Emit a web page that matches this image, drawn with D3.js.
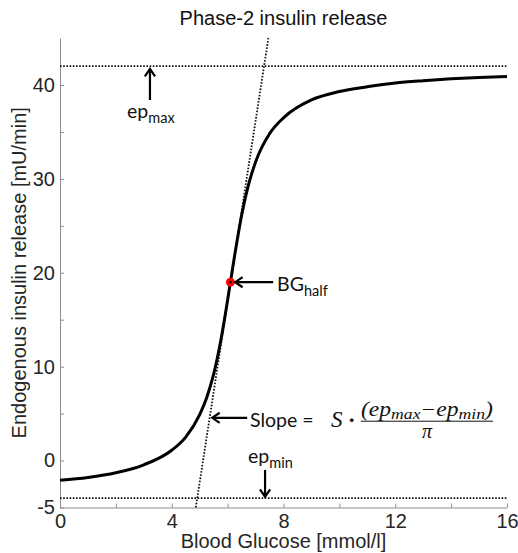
<!DOCTYPE html>
<html>
<head>
<meta charset="utf-8">
<script src="https://cdn.jsdelivr.net/npm/d3@7"></script>
<style>
  body { margin: 0; background: #fff; }
  #chart text { font-family: "Liberation Sans", Arial, sans-serif; }
  .axis path, .axis line { stroke: #8c8c8c; }
  .axis text { fill: #262626; font-size: 20px; }
  .note { font-family: Lato, "Open Sans", sans-serif !important; font-size: 19.5px; fill: #111; }
  .math { font-family: "Liberation Serif", "DejaVu Serif", serif !important; font-style: italic; fill: #111; }
</style>
</head>
<body>
<div id="chart"></div>
<script>
// data
var bgValues   = [0, 1, 2, 3, 4, 4.5, 5, 5.25, 5.5, 5.75, 6, 6.1, 6.25, 6.5, 6.75, 7, 7.5, 8, 9, 10, 11, 12, 13, 14, 15, 16];
var epValues   = [-2.1, -1.8, -1.3, -0.45, 1.1, 2.5, 4.9, 6.7, 9.2, 12.7, 17.1, 19, 21.8, 26.1, 29.4, 31.8, 34.8, 36.5, 38.4, 39.3, 39.8, 40.2, 40.45, 40.65, 40.8, 40.9];
var epLevels   = [42, -4];            // ep_max, ep_min
var tangentBG  = [4.86, 7.46];
var tangentEp  = [-5, 45];
var bgHalf     = [6.1, 19];
var xTicks     = [0, 2, 4, 6, 8, 10, 12, 14, 16];
var yTicks     = [-5, 0, 5, 10, 15, 20, 25, 30, 35, 40];

var W = 518, H = 553;
var svg = d3.select("#chart").append("svg")
    .attr("width", W).attr("height", H);

var x = d3.scaleLinear().domain([0, 16]).range([60, 507]);
var y = d3.scaleLinear().domain([-5, 45]).range([507.5, 38]);

// axes (MATLAB style, ticks inside, no box)
svg.append("g")
    .attr("class", "axis")
    .attr("transform", "translate(0," + y(-5) + ")")
    .call(d3.axisBottom(x)
      .tickValues(xTicks)
      .tickSize(-4)
      .tickSizeOuter(0)
      .tickPadding(6)
      .tickFormat(function(d) { return d % 4 === 0 ? String(d) : ""; }));

svg.append("g")
    .attr("class", "axis")
    .attr("transform", "translate(" + x(0) + ",0)")
    .call(d3.axisLeft(y)
      .tickValues(yTicks)
      .tickSize(-4)
      .tickSizeOuter(0)
      .tickPadding(5)
      .tickFormat(function(d) { return d % 10 === 0 || d === -5 ? String(d) : ""; }));

svg.selectAll(".axis .domain").attr("stroke", "#8c8c8c");

// horizontal ep levels
svg.selectAll(".level")
    .data(epLevels)
    .enter().append("line")
    .attr("class", "level")
    .attr("x1", x(0)).attr("x2", x(16))
    .attr("y1", function(d) { return y(d); })
    .attr("y2", function(d) { return y(d); })
    .attr("stroke", "#111")
    .attr("stroke-width", 1.8)
    .attr("stroke-dasharray", "1.6,1.6");

// tangent at BG_half
svg.append("line")
    .attr("x1", x(tangentBG[0])).attr("y1", y(tangentEp[0]))
    .attr("x2", x(tangentBG[1])).attr("y2", y(tangentEp[1]))
    .attr("stroke", "#111")
    .attr("stroke-width", 1.8)
    .attr("stroke-dasharray", "1.6,1.6");

// curve
var curve = d3.range(bgValues.length).map(function(i) { return [bgValues[i], epValues[i]]; });
svg.append("path")
    .datum(curve)
    .attr("fill", "none")
    .attr("stroke", "#000")
    .attr("stroke-width", 3)
    .attr("d", d3.line()
      .x(function(d) { return x(d[0]); })
      .y(function(d) { return y(d[1]); })
      .curve(d3.curveMonotoneX));

svg.append("circle")
    .attr("cx", x(bgHalf[0])).attr("cy", y(bgHalf[1]))
    .attr("r", 4.5)
    .attr("fill", "#f00");
svg.append("circle")
    .attr("cx", x(bgHalf[0])).attr("cy", y(bgHalf[1]))
    .attr("r", 1.2)
    .attr("fill", "#000");

// arrows (from -> tip), in data units
function arrow(x0, y0, x1, y1) {
  var px0 = x(x0), py0 = y(y0), px1 = x(x1), py1 = y(y1);
  var a = Math.atan2(py1 - py0, px1 - px0), h = 9, s = 0.6;
  svg.append("line")
      .attr("x1", px0).attr("y1", py0).attr("x2", px1).attr("y2", py1)
      .attr("stroke", "#000").attr("stroke-width", 2.2);
  svg.append("path")
      .attr("d", "M" + (px1 - h * Math.cos(a - s)) + "," + (py1 - h * Math.sin(a - s)) +
                 "L" + px1 + "," + py1 +
                 "L" + (px1 - h * Math.cos(a + s)) + "," + (py1 - h * Math.sin(a + s)))
      .attr("fill", "none").attr("stroke", "#000").attr("stroke-width", 2.2)
      .attr("stroke-linejoin", "miter");
}

function subLabel(bx, by, main, sub) {
  var t = svg.append("text").attr("class", "note")
      .attr("x", x(bx)).attr("y", y(by));
  t.append("tspan").text(main);
  t.append("tspan").attr("dy", 5).style("font-size", "14.5px").text(sub);
  return t;
}

arrow(3.22, 38.4, 3.22, 41.7);
subLabel(2.4, 36.5, "ep", "max");

arrow(7.63, 19, 6.27, 19);
subLabel(7.77, 18.1, "BG", "half");

arrow(7.34, -1.0, 7.34, -3.85);
subLabel(6.73, -0.3, "ep", "min");

arrow(6.7, 4.55, 5.45, 4.55);
var sx = x(6.8), sy = y(3.55);
svg.append("text").attr("class", "note")
    .attr("x", sx).attr("y", sy).text("Slope =");
svg.append("text").attr("class", "math")
    .attr("x", sx + 81).attr("y", sy).style("font-size", "23px").text("S");
svg.append("text").attr("class", "note")
    .attr("x", sx + 99).attr("y", sy - 1).style("font-weight", "bold").text("·");

var num = svg.append("text").attr("class", "math")
    .attr("x", sx + 111).attr("y", sy - 11)
    .attr("textLength", 132)
    .attr("lengthAdjust", "spacingAndGlyphs")
    .style("font-size", "20px");
num.append("tspan").text("(ep");
num.append("tspan").attr("dy", 3).style("font-size", "15px").text("max");
num.append("tspan").attr("dy", -3).text("\u2212ep");
num.append("tspan").attr("dy", 3).style("font-size", "15px").text("min");
num.append("tspan").attr("dy", -3).text(")");

svg.append("line")
    .attr("x1", sx + 111).attr("x2", sx + 243)
    .attr("y1", sy - 6).attr("y2", sy - 6)
    .attr("stroke", "#111").attr("stroke-width", 1);
svg.append("text").attr("class", "math")
    .attr("x", sx + 177).attr("y", sy + 11)
    .attr("text-anchor", "middle")
    .style("font-size", "20px").text("\u03c0");

// titles
svg.append("text")
    .attr("x", (x(0) + x(16)) / 2).attr("y", 25)
    .attr("text-anchor", "middle")
    .style("font-size", "20px").attr("fill", "#111")
    .text("Phase-2 insulin release");

svg.append("text")
    .attr("x", (x(0) + x(16)) / 2).attr("y", 548)
    .attr("text-anchor", "middle")
    .style("font-size", "20px").attr("fill", "#262626")
    .text("Blood Glucose [mmol/l]");

svg.append("text")
    .attr("transform", "translate(26," + (y(-5) + y(45)) / 2 + ") rotate(-90)")
    .attr("text-anchor", "middle")
    .style("font-size", "20px").attr("fill", "#262626")
    .text("Endogenous insulin release [mU/min]");
</script>
</body>
</html>
